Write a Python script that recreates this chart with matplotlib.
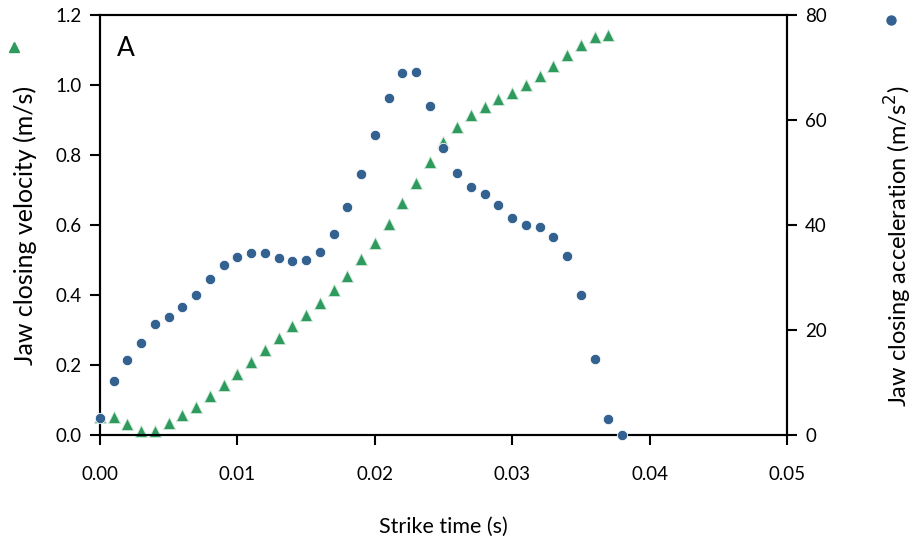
import numpy as np
import matplotlib
matplotlib.use("Agg")
import matplotlib.pyplot as plt

plt.rcParams['font.family'] = ['Lato', 'DejaVu Sans']

# strike time (s), one sample per ms
t_vel = np.arange(38) * 0.001
t_acc = np.arange(39) * 0.001

velocity = [0.05, 0.05, 0.03, 0.01, 0.01, 0.033, 0.057, 0.081, 0.11, 0.143,
            0.174, 0.208, 0.243, 0.278, 0.31, 0.343, 0.376, 0.414, 0.454, 0.503,
            0.549, 0.603, 0.662, 0.721, 0.779, 0.838, 0.88, 0.913, 0.938, 0.959,
            0.977, 0.999, 1.025, 1.055, 1.087, 1.115, 1.136, 1.143]

acceleration = [3.2, 10.2, 14.3, 17.6, 21.1, 22.5, 24.3, 26.7, 29.7, 32.3,
                33.9, 34.6, 34.6, 33.8, 33.1, 33.3, 34.9, 38.2, 43.4, 49.8,
                57.1, 64.1, 69.0, 69.1, 62.7, 54.7, 49.9, 47.2, 46.0, 43.9,
                41.3, 40.0, 39.7, 37.8, 34.1, 26.7, 14.5, 3.0, 0.0]

green = "#2e9a5e"
blue = "#336291"

fig = plt.figure(figsize=(9.13, 5.44), dpi=100)
ax = fig.add_axes([0.1095, 0.2004, 0.7525, 0.772])
ax2 = ax.twinx()

ax.plot(t_vel, velocity, linestyle="none", marker="^", ms=8.5, color=green,
        mec="#cfe8d8", mew=0.6, clip_on=False, zorder=3)
ax2.plot(t_acc, acceleration, linestyle="none", marker="o", ms=7.5, color=blue,
         mec="white", mew=0.6, clip_on=False, zorder=4)

ax.set_xlim(0, 0.05)
ax.set_ylim(0, 1.2)
ax2.set_ylim(0, 80)
ax.set_xticks([0, 0.01, 0.02, 0.03, 0.04, 0.05])
ax.set_xticklabels(["0.00", "0.01", "0.02", "0.03", "0.04", "0.05"])
ax.set_yticks([0, 0.2, 0.4, 0.6, 0.8, 1.0, 1.2])
ax.set_yticklabels(["0.0", "0.2", "0.4", "0.6", "0.8", "1.0", "1.2"])
ax2.set_yticks([0, 20, 40, 60, 80])

for a in (ax, ax2):
    for s in a.spines.values():
        s.set_linewidth(1.5)
    a.tick_params(labelsize=13.5, width=1.5, length=7, direction="out")
ax.tick_params(axis="x", pad=15)
ax.tick_params(axis="y", pad=6)
ax2.tick_params(axis="y", pad=6)

ax.set_xlabel("Strike time (s)", fontsize=15.5)
ax.set_ylabel("Jaw closing velocity (m/s)", fontsize=18)
ax2.set_ylabel("Jaw closing acceleration (m/s$^2$)", fontsize=17)
ax.xaxis.set_label_coords(0.5, -0.195)
ax.yaxis.set_label_coords(-0.092, 0.5)
ax2.yaxis.set_label_coords(1.14, 0.45)

ax.text(0.025, 0.92, "A", transform=ax.transAxes, fontsize=19, va="center")

# series keys drawn next to the axis titles
fig.lines.append(plt.Line2D([14 / 913], [1 - 47 / 544], transform=fig.transFigure,
                            marker="^", ms=7, color=green, linestyle="none"))
fig.lines.append(plt.Line2D([891 / 913], [1 - 20 / 544], transform=fig.transFigure,
                            marker="o", ms=6.5, color=blue, linestyle="none"))

fig.savefig("out.png", dpi=100)
